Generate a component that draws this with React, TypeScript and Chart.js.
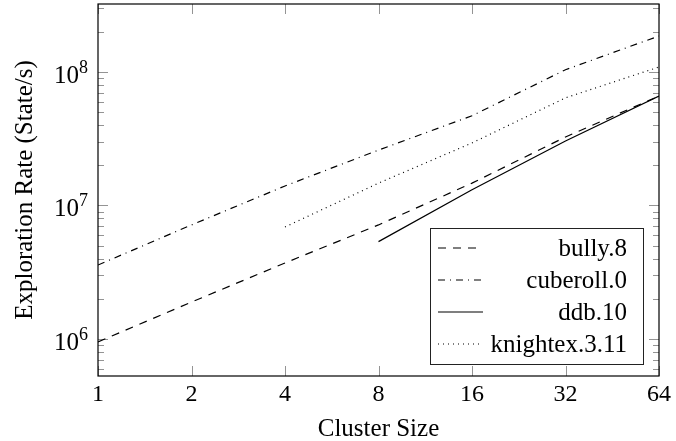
import React, { useEffect, useRef } from "react";
import { Chart, registerables } from "chart.js";

Chart.register(...registerables);

// ---- data ----
const clusterSizes = [1, 2, 4, 8, 16, 32, 64];
const bully8 = [9.5e5, 1.89e6, 3.71e6, 7.15e6, 1.47e7, 3.26e7, 6.6e7];
const cuberoll0 = [3.58e6, 7.15e6, 1.4e7, 2.6e7, 4.7e7, 1.04e8, 1.86e8];
const ddb10 = [null, null, null, 5.36e6, 1.31e7, 3.04e7, 6.6e7];
const knightex311 = [null, null, 6.9e6, 1.47e7, 2.94e7, 6.4e7, 1.09e8];
const seriesNames = ["bully.8", "cuberoll.0", "ddb.10", "knightex.3.11"];
const xTickValues = [1, 2, 4, 8, 16, 32, 64];
const xTickLabels = ["1", "2", "4", "8", "16", "32", "64"];
const yMajorTicks = [1e6, 1e7, 1e8];
const yTickExponents = ["6", "7", "8"];
const yMin = 5.28e5;
const yMax = 3.23e8;
const xTitle = "Cluster Size";
const yTitle = "Exploration Rate (State/s)";

const FONT = '"Liberation Serif", "Times New Roman", serif';

const seriesValues = [bully8, cuberoll0, ddb10, knightex311];
const seriesDashes = [[8, 7], [7, 5, 1, 5], [], [1, 4]];

function toPoints(values: (number | null)[]) {
  const pts: { x: number; y: number }[] = [];
  values.forEach((v, i) => {
    if (v !== null) pts.push({ x: clusterSizes[i], y: v });
  });
  return pts;
}

const framePlugin = {
  id: "frame",
  beforeDatasetsDraw(chart: any) {
    const { ctx, chartArea } = chart;
    const { left, right, top, bottom } = chartArea;
    const xs = chart.scales.x;
    const ys = chart.scales.y;
    ctx.save();
    ctx.strokeStyle = "rgba(0,0,0,0.42)";
    ctx.lineWidth = 1;
    // x major ticks (bottom and top, inward)
    xTickValues.forEach((v) => {
      const px = Math.round(xs.getPixelForValue(v)) + 0.5;
      ctx.beginPath();
      ctx.moveTo(px, bottom);
      ctx.lineTo(px, bottom - 10);
      ctx.moveTo(px, top);
      ctx.lineTo(px, top + 10);
      ctx.stroke();
    });
    // y ticks (left and right, inward)
    for (let e = 5; e <= 8; e++) {
      for (let m = 1; m <= 9; m++) {
        const v = m * Math.pow(10, e);
        if (v < yMin || v > yMax) continue;
        const len = m === 1 ? 10 : 6;
        const py = Math.round(ys.getPixelForValue(v)) + 0.5;
        ctx.beginPath();
        ctx.moveTo(left, py);
        ctx.lineTo(left + len, py);
        ctx.moveTo(right, py);
        ctx.lineTo(right - len, py);
        ctx.stroke();
      }
    }
    ctx.restore();
  },
  afterDraw(chart: any) {
    const { ctx, chartArea } = chart;
    const { left, right, top, bottom } = chartArea;
    const xs = chart.scales.x;
    const ys = chart.scales.y;
    ctx.save();
    // plot frame
    ctx.strokeStyle = "#000";
    ctx.lineWidth = 1.2;
    ctx.strokeRect(left, top, right - left, bottom - top);

    ctx.fillStyle = "#000";
    // x tick labels
    ctx.font = `24px ${FONT}`;
    ctx.textAlign = "center";
    ctx.textBaseline = "alphabetic";
    xTickValues.forEach((v, i) => {
      ctx.fillText(xTickLabels[i], xs.getPixelForValue(v), bottom + 25);
    });
    // y tick labels 10^n
    yMajorTicks.forEach((v, i) => {
      const py = ys.getPixelForValue(v);
      const rightX = left - 10;
      ctx.font = `18px ${FONT}`;
      ctx.textAlign = "right";
      const ew = ctx.measureText(yTickExponents[i]).width;
      ctx.fillText(yTickExponents[i], rightX, py + 1);
      ctx.font = `25px ${FONT}`;
      ctx.fillText("10", rightX - ew, py + 11);
    });
    // axis titles
    ctx.font = `25px ${FONT}`;
    ctx.textAlign = "center";
    ctx.fillText(xTitle, (left + right) / 2, bottom + 60);
    ctx.save();
    ctx.translate(32, (top + bottom) / 2);
    ctx.rotate(-Math.PI / 2);
    ctx.fillText(yTitle, 0, 0);
    ctx.restore();

    // legend
    const bx = right - 229;
    const by = bottom - 148;
    const bw = 213;
    const bh = 136;
    ctx.fillStyle = "#fff";
    ctx.fillRect(bx, by, bw, bh);
    ctx.strokeStyle = "#222";
    ctx.lineWidth = 1;
    ctx.strokeRect(bx + 0.5, by + 0.5, bw, bh);
    chart.data.datasets.forEach((ds: any, i: number) => {
      const base = by + 28 + i * 32;
      ctx.save();
      ctx.strokeStyle = "#000";
      ctx.lineWidth = 1.2;
      ctx.setLineDash(ds.borderDash || []);
      ctx.beginPath();
      ctx.moveTo(bx + 8, base - 8);
      ctx.lineTo(bx + 53, base - 8);
      ctx.stroke();
      ctx.restore();
      ctx.fillStyle = "#000";
      ctx.font = `25px ${FONT}`;
      ctx.textAlign = "right";
      ctx.fillText(ds.label, bx + bw - 16, base);
    });
    ctx.restore();
  },
};

export default function App() {
  const canvasRef = useRef<HTMLCanvasElement | null>(null);

  useEffect(() => {
    const canvas = canvasRef.current;
    if (!canvas) return;
    const chart = new Chart(canvas, {
      type: "line",
      data: {
        datasets: seriesNames.map((name, i) => ({
          label: name,
          data: toPoints(seriesValues[i]),
          borderColor: "#000",
          backgroundColor: "#000",
          borderWidth: 1.2,
          borderDash: seriesDashes[i],
          pointRadius: 0,
          tension: 0,
          fill: false,
        })),
      },
      options: {
        animation: false,
        responsive: false,
        devicePixelRatio: 1,
        layout: { padding: { left: 0, right: 17, top: 4, bottom: 0 } },
        plugins: {
          legend: { display: false },
          tooltip: { enabled: false },
        },
        scales: {
          x: {
            type: "logarithmic",
            min: 1,
            max: 64,
            grid: { display: false },
            border: { display: false },
            ticks: { display: false },
            afterBuildTicks: (s: any) => {
              s.ticks = xTickValues.map((v) => ({ value: v }));
            },
            afterFit: (s: any) => {
              s.height = 65;
            },
          },
          y: {
            type: "logarithmic",
            min: yMin,
            max: yMax,
            grid: { display: false },
            border: { display: false },
            ticks: { display: false },
            afterBuildTicks: (s: any) => {
              s.ticks = yMajorTicks.map((v) => ({ value: v }));
            },
            afterFit: (s: any) => {
              s.width = 98;
            },
          },
        },
      } as any,
      plugins: [framePlugin],
    });
    return () => chart.destroy();
  }, []);

  return (
    <div style={{ position: "absolute", left: 0, top: 0, width: 676, height: 441, background: "#fff" }}>
      <canvas ref={canvasRef} width={676} height={441} style={{ display: "block" }} />
    </div>
  );
}
